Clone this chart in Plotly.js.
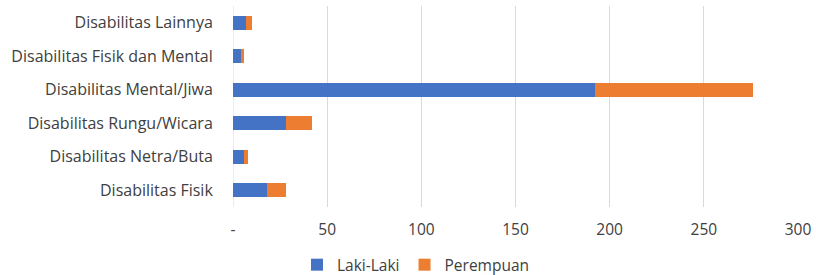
<!DOCTYPE html>
<html><head><meta charset="utf-8">
<script src="https://cdn.plot.ly/plotly-3.0.1.min.js"></script>
<style>html,body{margin:0;padding:0;background:#fff}#c{width:816px;height:275px}</style>
</head><body><div id="c"></div>
<script>
const categories = ["Disabilitas Fisik","Disabilitas Netra/Buta","Disabilitas Rungu/Wicara","Disabilitas Mental/Jiwa","Disabilitas Fisik dan Mental","Disabilitas Lainnya"];
const lakiLaki = [18, 6, 28, 192, 4, 7];
const perempuan = [10, 2, 14, 84, 2, 3];
const tickValues = [0, 50, 100, 150, 200, 250, 300];
const tickLabels = ["-", "50", "100", "150", "200", "250", "300"];

const font = {family: "'Open Sans', Lato, sans-serif", size: 15.5, color: "#404040"};
const yFont = {family: "'Open Sans', Lato, sans-serif", size: 16, color: "#404040"};
const data = [
  {type: "bar", orientation: "h", name: "Laki-Laki", y: categories, x: lakiLaki,
   marker: {color: "#4472C4"}, hoverinfo: "x+name"},
  {type: "bar", orientation: "h", name: "Perempuan", y: categories, x: perempuan,
   marker: {color: "#ED7D31"}, hoverinfo: "x+name"}
];
const layout = {
  width: 816, height: 275, barmode: "stack", bargap: 0.58,
  margin: {l: 233, r: 18, t: 6, b: 68, autoexpand: false},
  paper_bgcolor: "#fff", plot_bgcolor: "#fff", font: font,
  showlegend: true,
  xaxis: {range: [0, 300], tickvals: tickValues, ticktext: tickLabels,
    showgrid: true, gridcolor: "#d9d9d9", gridwidth: 1, zeroline: false,
    showline: false, ticks: "outside", ticklen: 8, tickcolor: "rgba(0,0,0,0)",
    tickfont: font, fixedrange: true, automargin: false},
  yaxis: {type: "category", showgrid: false, zeroline: false, showline: false,
    ticks: "outside", ticklen: 16, tickcolor: "rgba(0,0,0,0)", tickfont: yFont,
    fixedrange: true, automargin: false},
  shapes: [{type: "line", xref: "x", yref: "paper", x0: 0, x1: 0, y0: 0, y1: 1,
    line: {color: "#d9d9d9", width: 1}, layer: "below"}],
  legend: {orientation: "h", xref: "container", yref: "container",
    x: 0.364, xanchor: "left", y: 0.036, yanchor: "middle",
    font: font, traceorder: "normal"}
};
Plotly.newPlot("c", data, layout, {displayModeBar: false, staticPlot: true});
</script></body></html>
